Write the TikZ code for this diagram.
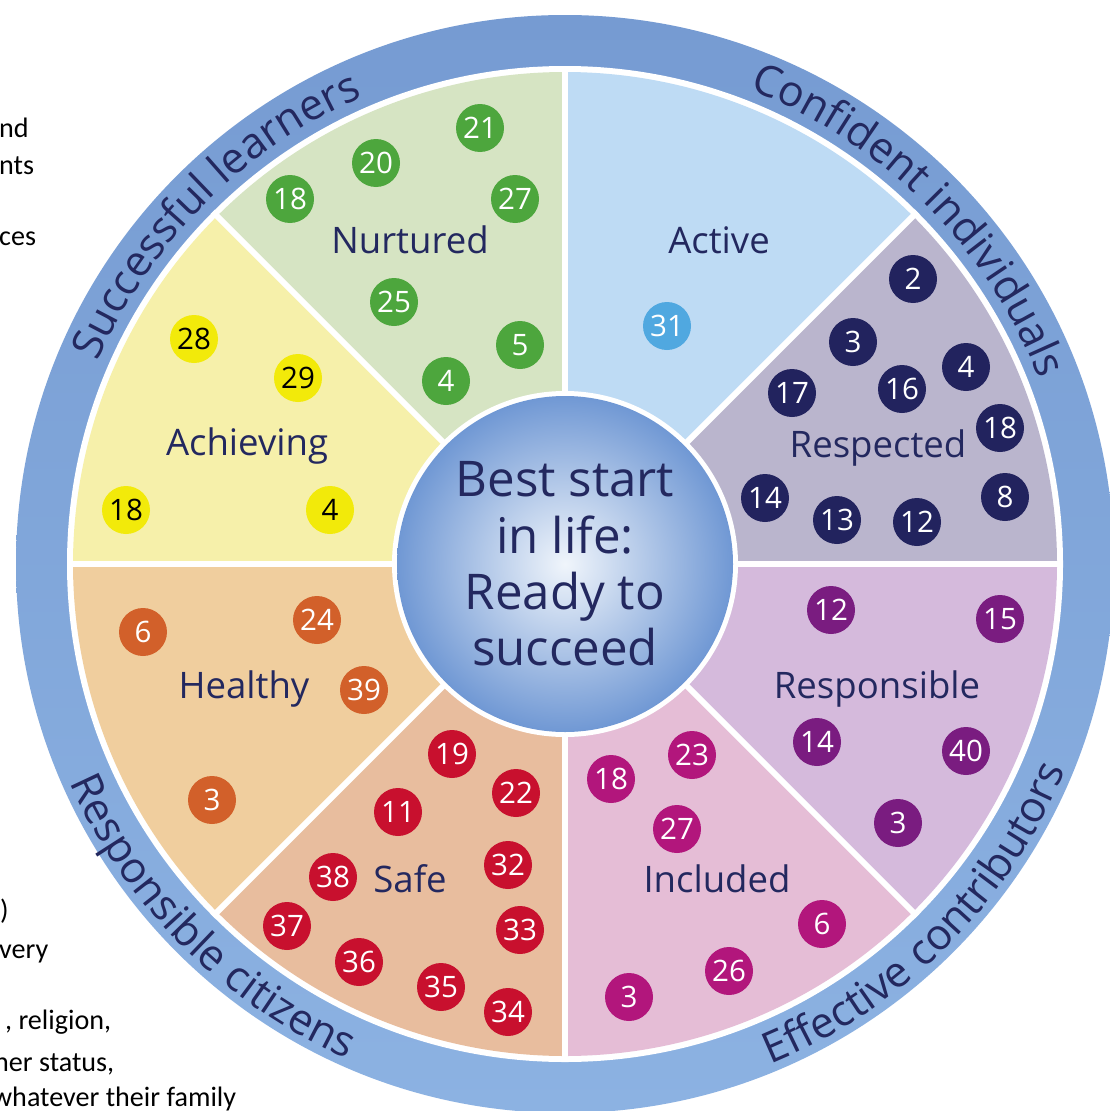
\documentclass[tikz,border=0pt]{standalone}
\usepackage{fontspec}
\setmainfont{Open Sans}
\newfontfamily\bgfont{Carlito}
\usetikzlibrary{decorations.text}
\definecolor{navy}{RGB}{35,40,95}
\definecolor{ringtop}{RGB}{118,155,210}
\definecolor{ringbot}{RGB}{140,178,226}
\definecolor{ctrout}{RGB}{112,152,212}
\definecolor{ctrin}{RGB}{240,245,251}
\definecolor{sNur}{RGB}{214,228,195}
\definecolor{sAct}{RGB}{190,219,244}
\definecolor{sRes}{RGB}{186,181,205}
\definecolor{sRsp}{RGB}{213,186,220}
\definecolor{sInc}{RGB}{229,189,214}
\definecolor{sSaf}{RGB}{232,189,158}
\definecolor{sHea}{RGB}{240,206,158}
\definecolor{sAch}{RGB}{246,240,170}
\definecolor{cNur}{RGB}{77,166,61}
\definecolor{cAct}{RGB}{80,168,224}
\definecolor{cRes}{RGB}{34,35,94}
\definecolor{cRsp}{RGB}{122,28,128}
\definecolor{cInc}{RGB}{178,22,124}
\definecolor{cSaf}{RGB}{200,16,46}
\definecolor{cHea}{RGB}{210,96,42}
\definecolor{cAch}{RGB}{242,234,10}
\tikzset{
 num/.style={circle, inner sep=0pt, minimum size=2.4cm, text=white, font=\fontsize{42}{42}\selectfont},
 seglabel/.style={anchor=base, inner sep=0pt, text=navy, font=\fontsize{52}{60}\selectfont},
 bgtext/.style={anchor=base west, inner sep=0pt, text=black, font=\bgfont\fontsize{40}{42}\selectfont},
 ringtext/.style={decorate, decoration={text along path, text align=center, text color=navy, text={|\fontsize{61}{61}\selectfont|#1}}}
}
\begin{document}
\begin{tikzpicture}[x=0.05cm,y=0.05cm]
\useasboundingbox (0,0) rectangle (1109,-1111);
\fill[white] (0,0) rectangle (1109,-1111);
\coordinate (C) at (565,-564);

% background page text fragments
\node[bgtext] (bg1) at (-1,-137) {nd};
\node[bgtext] (bg2) at (-1,-174) {nts};
\node[bgtext] (bg3) at (-1,-245) {ces};
\node[bgtext] (bg4) at (0,-919) {)};
\node[bgtext] (bg5) at (-1,-958) {very};
\node[bgtext] (bg6) at (5,-1029) {, religion,};
\node[bgtext] (bg7) at (-6,-1071) {her status,};
\node[bgtext] (bg8) at (-8,-1106) {whatever their family};

% outer ring
\shade[top color=ringtop, bottom color=ringbot] (C) circle[radius=549];
\fill[white] (C) circle[radius=498];

% sectors
\foreach \s/\a in {sAct/90, sRes/45, sRsp/0, sInc/-45, sSaf/-90, sHea/-135, sAch/180, sNur/135}
  \fill[\s] (C) -- ++(\a:492) arc[start angle=\a, end angle=\a-45, radius=492] -- cycle;
\foreach \a in {0,45,...,315}
  \draw[white, line width=0.3cm] (C) -- ++(\a:498);

% centre
\fill[white] (C) circle[radius=173];
\shade[inner color=ctrin, outer color=ctrout] (C) circle[radius=168];
\node[align=center, text=navy, font=\fontsize{70}{80}\selectfont, inner sep=0pt] (centre) at (C) {Best start\\in life:\\Ready to\\succeed};

% ring texts
\begin{scope}[shift={(C)}]
\path[ringtext={Successful learners}] (175:509) arc[start angle=175, end angle=95, radius=509];
\path[ringtext={Confident individuals}] (85:509) arc[start angle=85, end angle=5, radius=509];
\path[ringtext={Responsible citizens}] (185:541) arc[start angle=185, end angle=265, radius=541];
\path[ringtext={Effective contributors}] (-85:541) arc[start angle=-85, end angle=-5, radius=541];
\end{scope}

% segment labels
\node[seglabel] (lNur) at (410,-253) {Nurtured};
\node[seglabel] (lAct) at (719,-253) {Active};
\node[seglabel] (lRes) at (878,-457) {Respected};
\node[seglabel] (lAch) at (247,-455) {Achieving};
\node[seglabel] (lHea) at (244,-698) {Healthy};
\node[seglabel] (lRsp) at (877,-698) {Responsible};
\node[seglabel] (lSaf) at (410,-892) {Safe};
\node[seglabel] (lInc) at (717,-892) {Included};

% Nurtured
\node[num, fill=cNur] (nur21) at (480,-128) {21};
\node[num, fill=cNur] (nur20) at (376,-163) {20};
\node[num, fill=cNur] (nur27) at (515,-199) {27};
\node[num, fill=cNur] (nur18) at (290,-199) {18};
\node[num, fill=cNur] (nur25) at (394,-302) {25};
\node[num, fill=cNur] (nur5) at (520,-345) {5};
\node[num, fill=cNur] (nur4) at (446,-381) {4};
% Active
\node[num, fill=cAct] (act31) at (667,-326) {31};
% Respected
\node[num, fill=cRes] (res2) at (913,-279) {2};
\node[num, fill=cRes] (res3) at (853,-342) {3};
\node[num, fill=cRes] (res4) at (966,-367) {4};
\node[num, fill=cRes] (res17) at (792,-393) {17};
\node[num, fill=cRes] (res16) at (902,-389) {16};
\node[num, fill=cRes] (res18) at (1000,-428) {18};
\node[num, fill=cRes] (res14) at (765,-498) {14};
\node[num, fill=cRes] (res13) at (837,-520) {13};
\node[num, fill=cRes] (res12) at (917,-522) {12};
\node[num, fill=cRes] (res8) at (1005,-497) {8};
% Responsible
\node[num, fill=cRsp] (rsp12) at (831,-610) {12};
\node[num, fill=cRsp] (rsp15) at (1000,-619) {15};
\node[num, fill=cRsp] (rsp14) at (817,-742) {14};
\node[num, fill=cRsp] (rsp40) at (966,-751) {40};
\node[num, fill=cRsp] (rsp3) at (898,-823) {3};
% Included
\node[num, fill=cInc] (inc18) at (611,-779) {18};
\node[num, fill=cInc] (inc23) at (692,-755) {23};
\node[num, fill=cInc] (inc27) at (677,-829) {27};
\node[num, fill=cInc] (inc6) at (822,-924) {6};
\node[num, fill=cInc] (inc26) at (729,-971) {26};
\node[num, fill=cInc] (inc3) at (629,-997) {3};
% Safe
\node[num, fill=cSaf] (saf19) at (452,-754) {19};
\node[num, fill=cSaf] (saf22) at (516,-793) {22};
\node[num, fill=cSaf] (saf11) at (398,-812) {11};
\node[num, fill=cSaf] (saf32) at (508,-865) {32};
\node[num, fill=cSaf] (saf38) at (333,-877) {38};
\node[num, fill=cSaf] (saf33) at (520,-930) {33};
\node[num, fill=cSaf] (saf37) at (287,-926) {37};
\node[num, fill=cSaf] (saf36) at (359,-962) {36};
\node[num, fill=cSaf] (saf35) at (441,-987) {35};
\node[num, fill=cSaf] (saf34) at (508,-1012) {34};
% Healthy
\node[num, fill=cHea] (hea6) at (143,-632) {6};
\node[num, fill=cHea] (hea24) at (317,-620) {24};
\node[num, fill=cHea] (hea39) at (364,-690) {39};
\node[num, fill=cHea] (hea3) at (212,-800) {3};
% Achieving
\node[num, fill=cAch, text=black] (ach28) at (194,-339) {28};
\node[num, fill=cAch, text=black] (ach29) at (298,-378) {29};
\node[num, fill=cAch, text=black] (ach18) at (126,-510) {18};
\node[num, fill=cAch, text=black] (ach4) at (330,-510) {4};
\end{tikzpicture}
\end{document}
